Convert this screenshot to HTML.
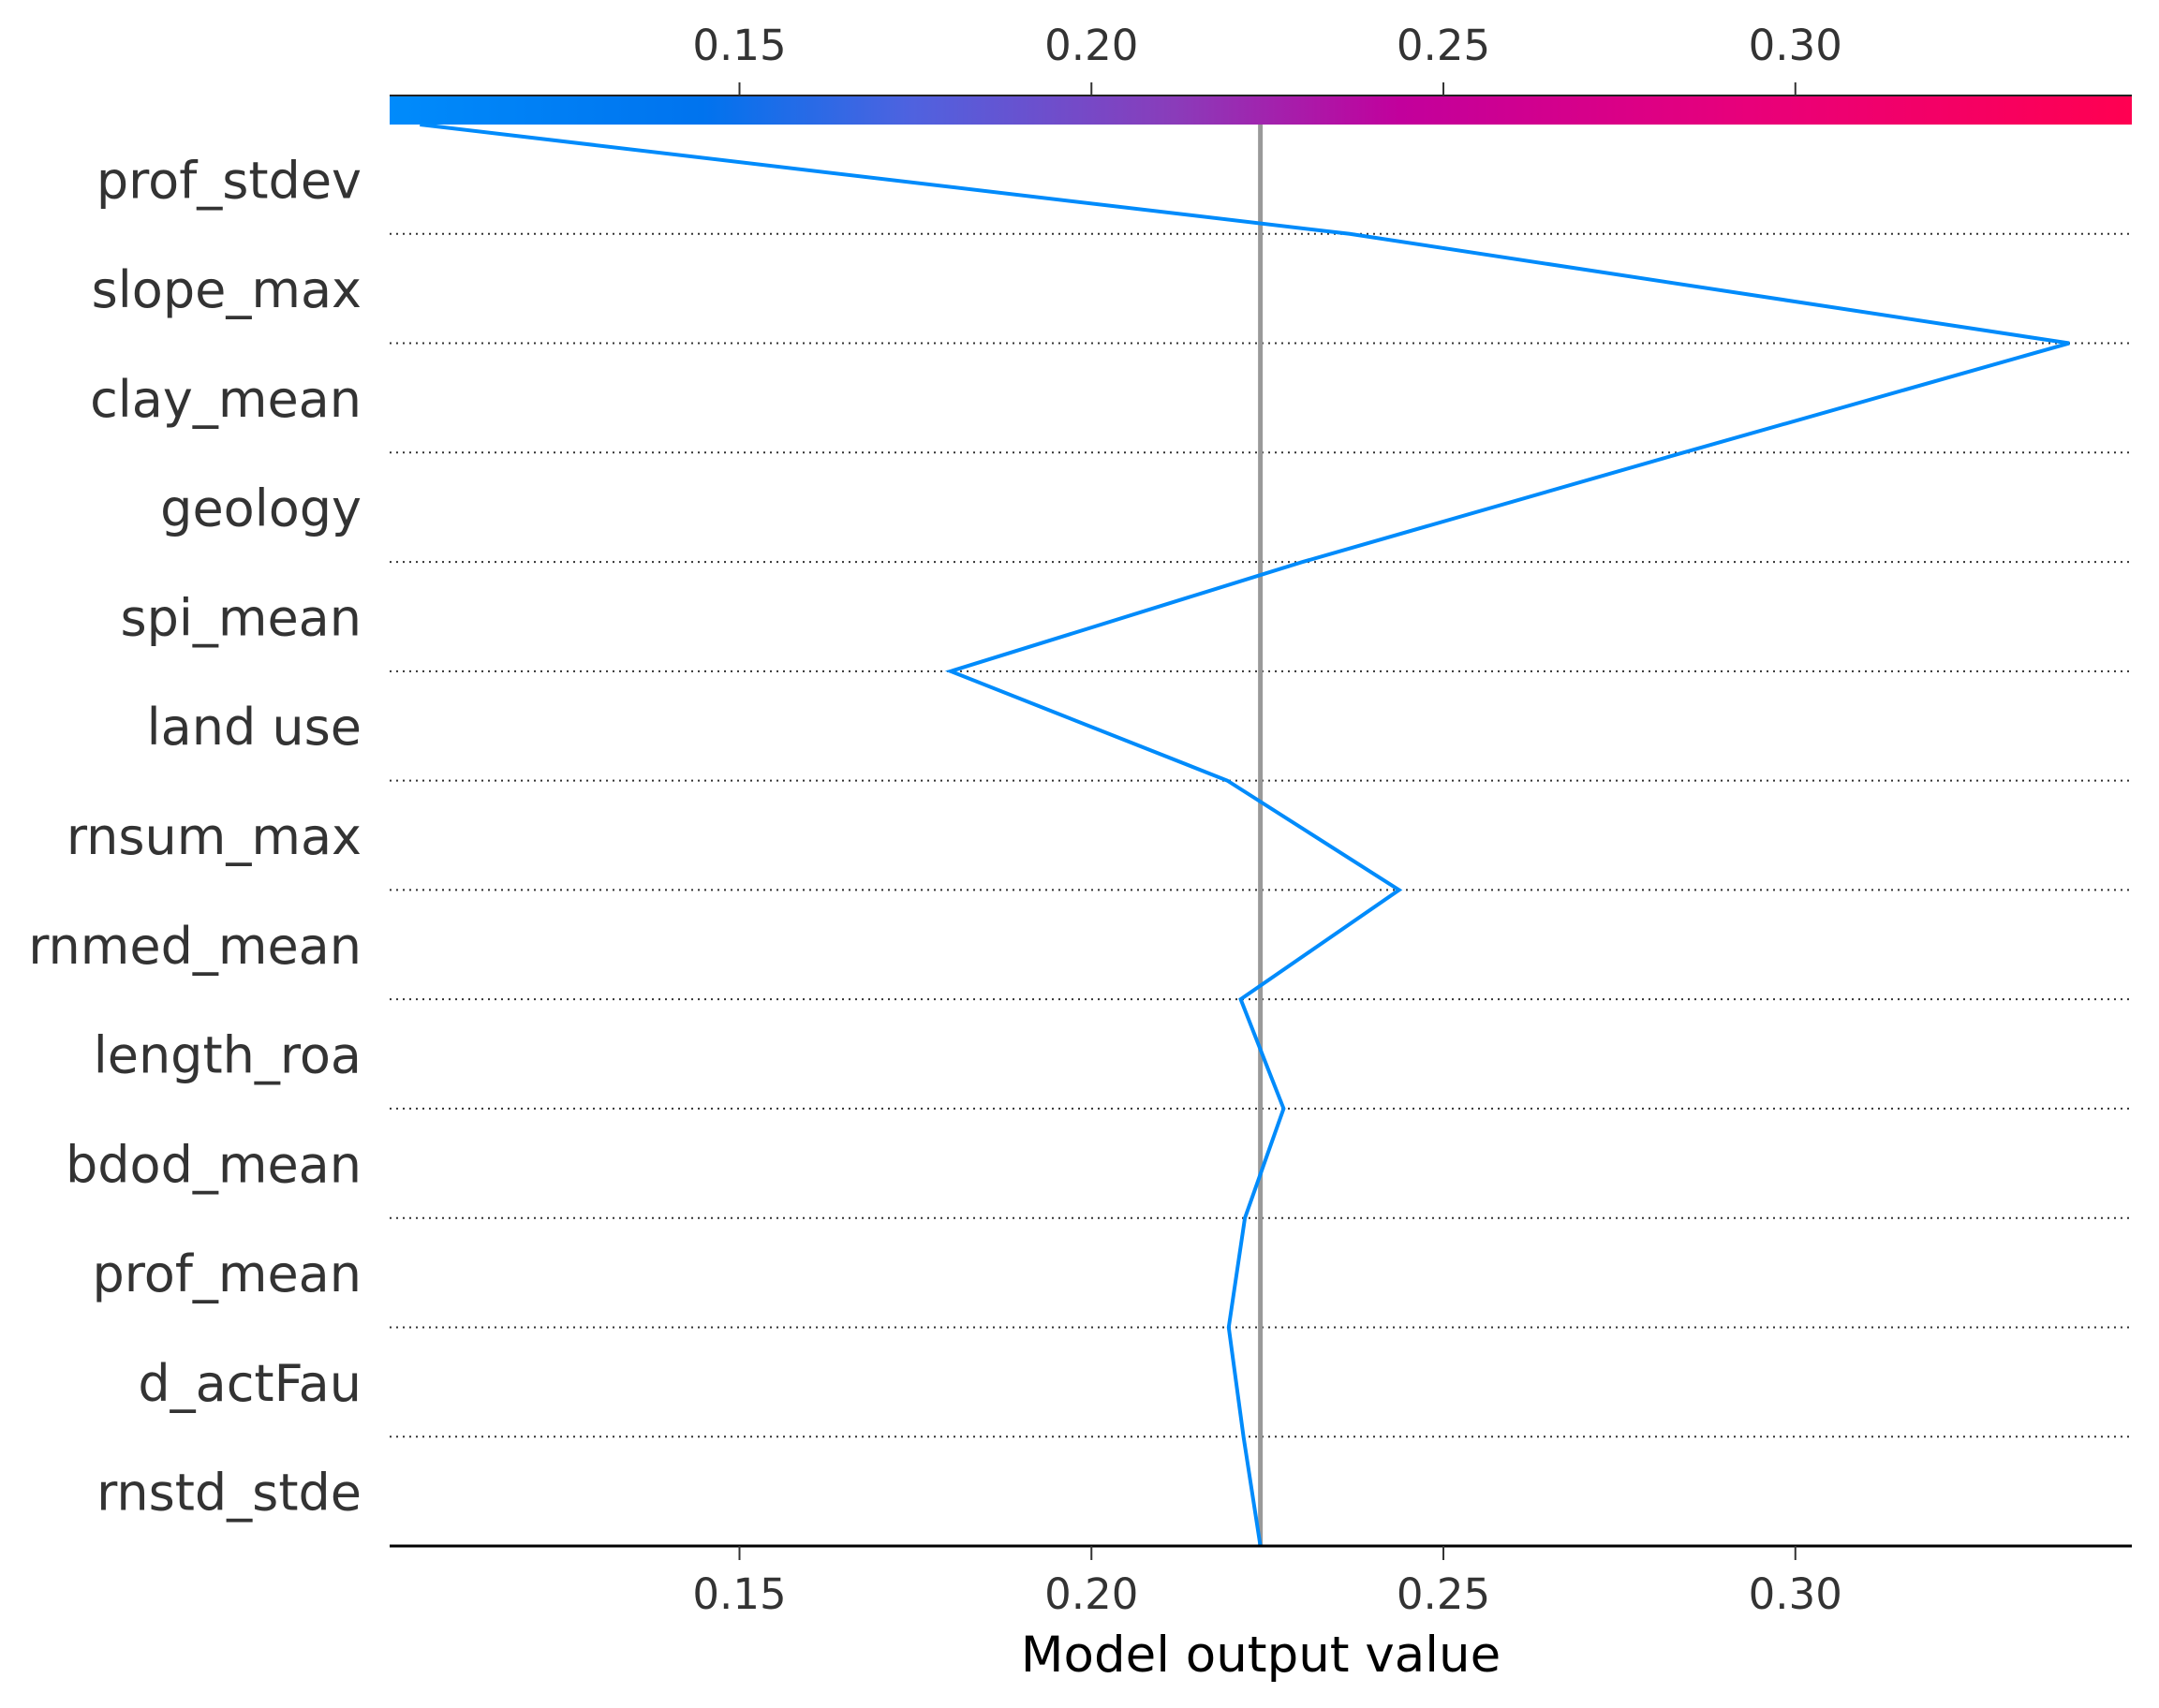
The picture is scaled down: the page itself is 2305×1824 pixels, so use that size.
<!DOCTYPE html>
<html><head><meta charset="utf-8"><style>
html,body{margin:0;padding:0;background:#fff;}
svg{display:block;font-family:"DejaVu Sans","Liberation Sans",sans-serif;}
</style></head><body>
<svg id="chart" width="2305" height="1824" viewBox="0 0 2305 1824" xmlns="http://www.w3.org/2000/svg">
<defs>
<linearGradient id="cg" x1="0" x2="1" y1="0" y2="0">
<stop offset="0" stop-color="#008bfb"/>
<stop offset="0.18" stop-color="#0073ee"/>
<stop offset="0.3" stop-color="#4f62df"/>
<stop offset="0.45" stop-color="#8a3cba"/>
<stop offset="0.58" stop-color="#c2009c"/>
<stop offset="0.78" stop-color="#e8007a"/>
<stop offset="1" stop-color="#ff0051"/>
</linearGradient>
</defs>
<g id="plot"></g>
</svg>
<script>
const features = ["prof_stdev","slope_max","clay_mean","geology","spi_mean","land use","rnsum_max","rnmed_mean","length_roa","bdod_mean","prof_mean","d_actFau","rnstd_stde"];
// cumulative model output at each row boundary, top (index 0) to bottom (base)
const outputs = [0.1046,0.2367,0.3389,0.2841,0.2300,0.1800,0.2193,0.2437,0.2212,0.2273,0.2218,0.2195,0.2216,0.2240];
const baseValue = 0.2240;
const tickValues = [0.15,0.20,0.25,0.30];
const tickLabels = ["0.15","0.20","0.25","0.30"];
const xMin = 0.1003, xMax = 0.3478;

const NS="http://www.w3.org/2000/svg";
const g=document.getElementById('plot');
const L=416, R=2276, TOP=133, BOT=1651;
const rowH=(BOT-TOP)/features.length;
function xs(v){return L+(v-xMin)/(xMax-xMin)*(R-L);}
function ys(i){return TOP+i*rowH;}
function mk(tag,attrs,parent){const e=document.createElementNS(NS,tag);for(const k in attrs)e.setAttribute(k,attrs[k]);(parent||g).appendChild(e);return e;}

const cb=mk('rect',{x:L,y:102,width:R-L,height:31,fill:'url(#cg)'});


const cbl=mk('line',{x1:L,x2:R,y1:102,y2:102,stroke:'#222','stroke-width':2});



features.forEach((f,i)=>{
  if(i<features.length-1){
    const dl=mk('line',{x1:L,x2:R,y1:ys(i+1),y2:ys(i+1),stroke:'#333','stroke-width':2,'stroke-dasharray':'2 5'});
    
    
  }
  const t=mk('text',{x:386,y:ys(i)+rowH/2+20,'text-anchor':'end','font-size':54,fill:'#333'});
  t.textContent=f;
  
  
});

const bl=mk('line',{x1:xs(baseValue),x2:xs(baseValue),y1:TOP,y2:BOT,stroke:'#999','stroke-width':5});



const pts=outputs.map((v,i)=>xs(v)+','+ys(i)).join(' ');
const pl=mk('polyline',{points:pts,fill:'none',stroke:'#008bfb','stroke-width':4});



const ax=mk('line',{x1:L,x2:R,y1:BOT,y2:BOT,stroke:'#000','stroke-width':3});



tickValues.forEach((v,i)=>{
  const x=xs(v);
  const tt=mk('line',{x1:x,x2:x,y1:88,y2:102,stroke:'#333','stroke-width':2});
  
  
  const tl=mk('text',{x:x,y:64,'text-anchor':'middle','font-size':45,fill:'#333'});
  tl.textContent=tickLabels[i];
  
  
  const bt=mk('line',{x1:x,x2:x,y1:BOT,y2:BOT+15,stroke:'#333','stroke-width':2});
  
  
  const btl=mk('text',{x:x,y:1718,'text-anchor':'middle','font-size':45,fill:'#333'});
  btl.textContent=tickLabels[i];
  
  
});

const xt=mk('text',{x:1346,y:1785,'text-anchor':'middle','font-size':53,fill:'#000'});
xt.textContent='Model output value';


</script>
</body></html>
